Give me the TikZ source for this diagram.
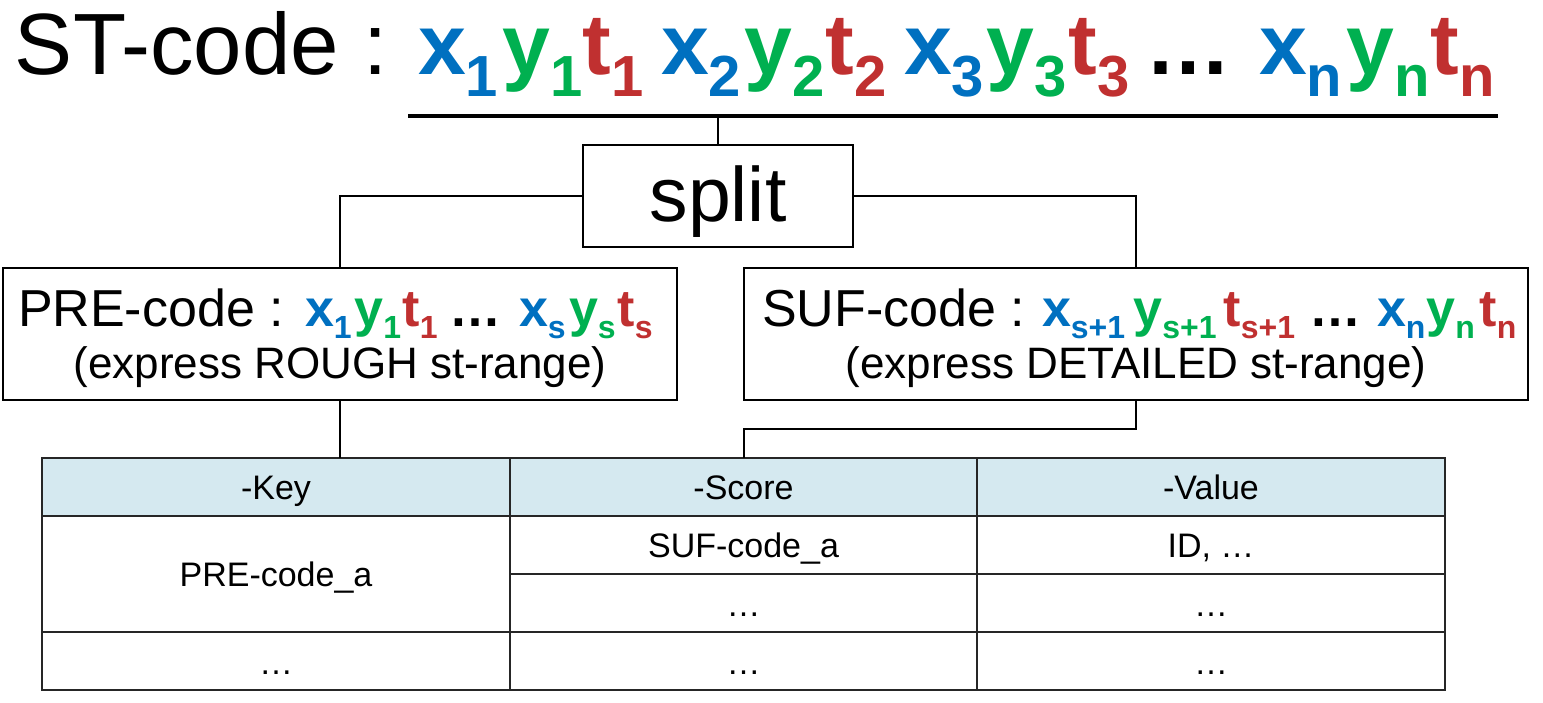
\documentclass[tikz,border=0pt]{standalone}
\usepackage{fontspec}
\setmainfont{Liberation Sans}
\definecolor{cb}{RGB}{0,112,192}
\definecolor{cg}{RGB}{0,176,80}
\definecolor{cr}{RGB}{192,48,48}
\definecolor{hdr}{RGB}{213,233,240}
\newcommand{\fs}[1]{\fontsize{#1pt}{#1pt}\selectfont}
% \cpiece{color}{letter}{sub}{F}{S}{drop}
\newcommand{\cpiece}[6]{\textcolor{#1}{\fs{#4}\bfseries #2\raisebox{-#6pt}{\fs{#5}\bfseries #3}}}
\newcommand{\tp}[3]{\cpiece{#1}{#2}{#3}{86}{58}{22}}
\newcommand{\bp}[3]{\cpiece{#1}{#2}{#3}{52}{32}{12}}
\tikzset{
  pc/.style={anchor=base west, inner sep=0pt, outer sep=0pt},
  ctext/.style={anchor=base, inner sep=0pt, outer sep=0pt},
  boxn/.style={draw, line width=2.7pt, inner sep=0pt, outer sep=0pt},
  conn/.style={line width=2pt},
  grid/.style={line width=2.2pt, draw=black!85},
  ttext/.style={anchor=base, inner sep=0pt, font=\fs{34}}
}
\begin{document}
\begin{tikzpicture}[x=1pt,y=-1pt]
\useasboundingbox (0,0) rectangle (1543,703);
% title
\node[pc] (st) at (15,75) {\fs{87}ST-code :};
\node[pc] (x1) at (418,75) {\tp{cb}{x}{1}};
\node[pc] (y1) at (502.5,75) {\tp{cg}{y}{1}};
\node[pc] (t1) at (582.5,75) {\tp{cr}{t}{1}};
\node[pc] (x2) at (661,75) {\tp{cb}{x}{2}};
\node[pc] (y2) at (744.5,75) {\tp{cg}{y}{2}};
\node[pc] (t2) at (825.5,75) {\tp{cr}{t}{2}};
\node[pc] (x3) at (904,75) {\tp{cb}{x}{3}};
\node[pc] (y3) at (986.5,75) {\tp{cg}{y}{3}};
\node[pc] (t3) at (1068.5,75) {\tp{cr}{t}{3}};
\node[pc] (tdots) at (1145,75) {\fs{86}\bfseries …};
\node[pc] (xn) at (1259,75) {\tp{cb}{x}{n}};
\node[pc] (yn) at (1346.5,75) {\tp{cg}{y}{n}};
\node[pc] (tn) at (1430.5,75) {\tp{cr}{t}{n}};
\coordinate (ulA) at (408,116);
\coordinate (ulB) at (1498,116);
\draw[line width=4.5pt] (ulA) -- (ulB);
% split
\node[boxn, minimum width=270pt, minimum height=102pt, text height=62pt, text depth=10pt] (split) at (718,196) {\fs{77}split};
\draw[conn] (split.north) -- (split.north |- ulA);
% PRE box
\node[boxn, minimum width=674pt, minimum height=132pt] (pre) at (340,334) {};
\node[pc] (pret) at (18,327) {\fs{52}PRE-code :};
\node[pc] (px1) at (305,327) {\bp{cb}{x}{1}};
\node[pc] (py1) at (354.5,327) {\bp{cg}{y}{1}};
\node[pc] (pt1) at (402.5,327) {\bp{cr}{t}{1}};
\node[pc] (pdots) at (449,327) {\fs{52}\bfseries …};
\node[pc] (pxs) at (519,327) {\bp{cb}{x}{s}};
\node[pc] (pys) at (569,327) {\bp{cg}{y}{s}};
\node[pc] (pts) at (617.5,327) {\bp{cr}{t}{s}};
\node[ctext] (prel2) at (340,378) {\fs{44}(express ROUGH st-range)};
% SUF box
\node[boxn, minimum width=784pt, minimum height=132pt] (suf) at (1136,334) {};
\node[pc] (suft) at (762,327) {\fs{52}SUF-code :};
\node[pc] (sx1) at (1042,327) {\bp{cb}{x}{s+1}};
\node[pc] (sy1) at (1133.5,327) {\bp{cg}{y}{s+1}};
\node[pc] (st1) at (1223.5,327) {\bp{cr}{t}{s+1}};
\node[pc] (sdots) at (1309,327) {\fs{52}\bfseries …};
\node[pc] (sxn) at (1377,327) {\bp{cb}{x}{n}};
\node[pc] (syn) at (1426.5,327) {\bp{cg}{y}{n}};
\node[pc] (stn) at (1479.5,327) {\bp{cr}{t}{n}};
\node[ctext] (sufl2) at (1136,378) {\fs{44}(express DETAILED st-range)};
% connectors split -> boxes
\draw[conn] (split.west) -| (pre.north);
\draw[conn] (split.east) -| (suf.north);
% table
\fill[hdr] (42,458) rectangle (1445,516);
\node[inner sep=0pt, outer sep=0pt, minimum width=1403pt, minimum height=232pt] (tbl) at (743.5,574) {};
\draw[grid] (42,516) -- (1445,516);
\draw[grid] (510,574) -- (1445,574);
\draw[grid] (42,632) -- (1445,632);
\draw[grid] (510,458) -- (510,690);
\draw[grid] (977,458) -- (977,690);
\draw[grid] (tbl.north west) rectangle (tbl.south east);
% connectors boxes -> table
\draw[conn] (pre.south) -- (pre.south |- tbl.north);
\coordinate (sj) at (1136,429);
\draw[conn] (suf.south) -- (sj) -| (suf.west |- tbl.north);
% table text
\node[ttext] (hk) at (276,499) {-Key};
\node[ttext] (hs) at (743.5,499) {-Score};
\node[ttext] (hv) at (1211,499) {-Value};
\node[ttext] (kpre) at (276,586) {PRE-code\_a};
\node[ttext] (ssuf) at (743.5,557) {SUF-code\_a};
\node[ttext] (vid) at (1211,557) {ID, …};
\node[ttext] (s2) at (743.5,616) {…};
\node[ttext] (v2) at (1211,616) {…};
\node[ttext] (k3) at (276,674) {…};
\node[ttext] (s3) at (743.5,674) {…};
\node[ttext] (v3) at (1211,674) {…};
\end{tikzpicture}
\end{document}
